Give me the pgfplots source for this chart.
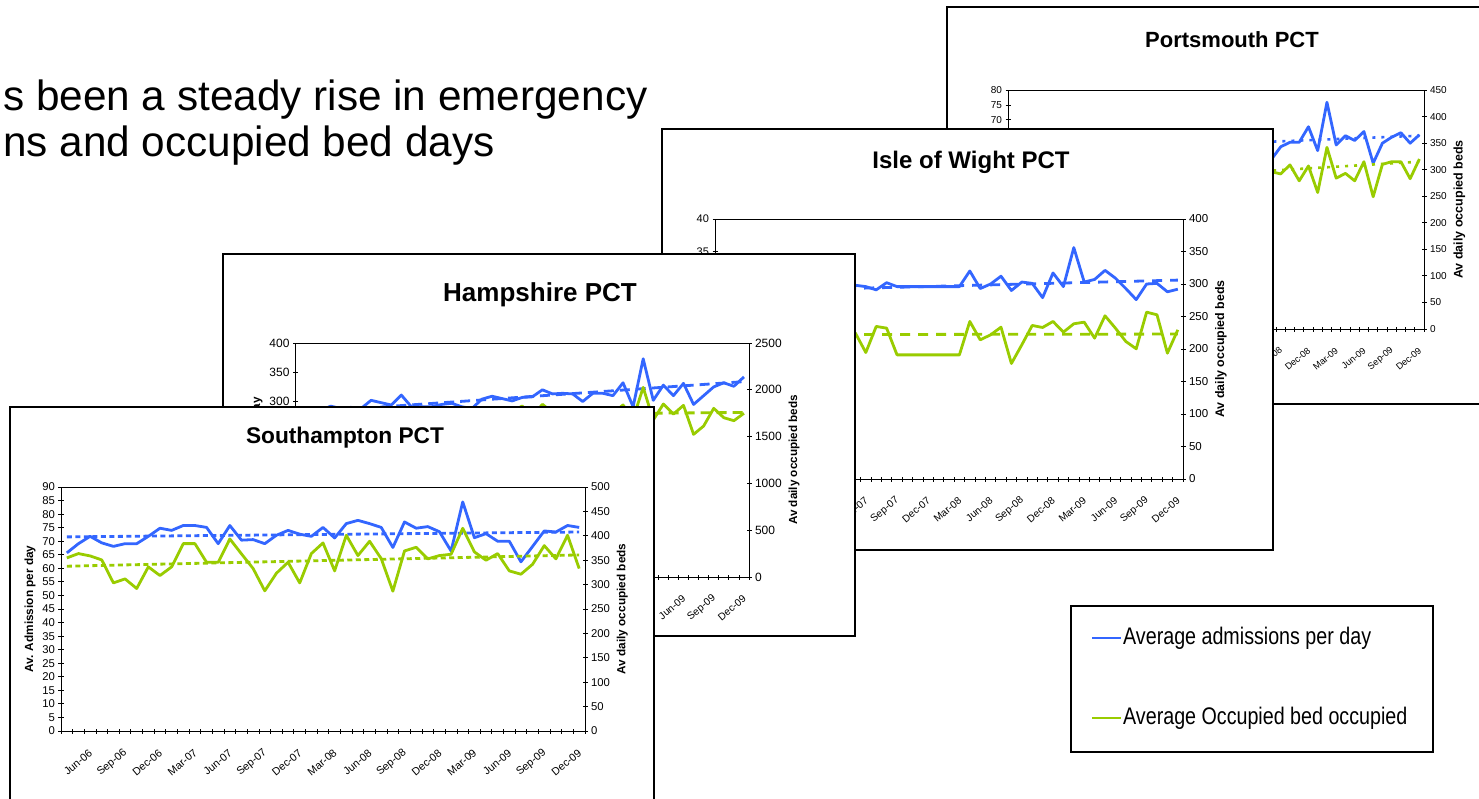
\documentclass[border=0pt]{standalone}
\usepackage{fontspec}
\setmainfont{Liberation Sans}
\newfontfamily\narrowfont[FakeStretch=0.82]{Liberation Sans}
\usepackage{pgfplots}
\usepackage{pgfplotstable}
\pgfplotsset{compat=1.18}
\definecolor{admblue}{RGB}{51,102,255}
\definecolor{bedgreen}{RGB}{153,204,0}
\newcommand{\fs}[1]{\fontsize{#1}{#1}\selectfont}

\pgfplotstableread{
i adm beds
1 65.7 354.7
2 69.1 363.6
3 71.8 358.8
4 69.4 350.6
5 68.1 303.5
6 69.1 311.7
7 69.1 292.0
8 71.8 336.3
9 74.8 318.6
10 74.0 336.3
11 75.8 384.0
12 75.8 384.0
13 75.1 345.8
14 69.1 345.8
15 75.8 393.6
16 70.4 362.9
17 70.6 332.9
18 69.1 287.2
19 72.2 323.3
20 74.0 345.8
21 72.6 303.5
22 71.8 363.6
23 75.1 385.4
24 71.2 328.1
25 76.5 401.1
26 77.7 359.5
27 76.5 388.8
28 75.1 353.3
29 67.7 286.5
30 77.1 369.0
31 74.8 376.5
32 75.4 352.7
33 73.5 359.5
34 66.4 362.2
35 84.5 415.4
36 71.3 367.0
37 72.8 349.9
38 70.0 363.6
39 70.0 328.1
40 62.4 321.3
41 68.1 341.7
42 73.8 379.9
43 73.4 352.7
44 75.8 401.1
45 75.1 332.9
}\southdata

\pgfplotstableread{
i adm beds
1 282 1700
2 288 1760
3 285 1740
4 292 1720
5 288 1650
6 290 1670
7 288 1640
8 302 1740
9 298 1700
10 294 1730
11 311 1800
12 291 1800
13 291 1740
14 291 1730
15 295 1810
16 297 1760
17 291 1700
18 288 1640
19 304 1720
20 309 1750
21 305 1680
22 301 1770
23 307 1827
24 308 1720
25 320 1845
26 313 1760
27 314 1810
28 313 1740
29 300 1640
30 314 1770
31 314 1790
32 310 1750
33 332 1838
34 291 1690
35 373 2026
36 302 1677
37 328 1848
38 310 1741
39 331 1834
40 295 1524
41 310 1613
42 325 1802
43 332 1702
44 326 1670
45 342 1749
}\hampdata

\pgfplotstableread{
i adm beds
1 28.5 215
2 29.2 228
3 28.8 205
4 29.5 221
5 28.2 232
6 29.0 210
7 29.8 198
8 28.6 225
9 29.3 219
10 30.1 207
11 29.0 230
12 29.5 214
13 30.3 229
14 29.8 224.4
15 29.6 194.6
16 29.1 234.7
17 30.2 232.1
18 29.6 191
19 29.6 191
20 29.6 191
21 29.6 191
22 29.6 191
23 29.6 191
24 29.6 191
25 32.0 242.4
26 29.3 214.1
27 30.0 221.8
28 31.2 233.6
29 29.0 177.7
30 30.3 206.4
31 30.1 236.2
32 27.9 233.1
33 31.7 242.4
34 29.6 225.9
35 35.6 238.8
36 30.3 241.3
37 30.7 216.7
38 32.1 251.1
39 30.9 232.1
40 29.3 211.6
41 27.6 200.3
42 30.0 256.7
43 30.1 252.6
44 28.8 193.6
45 29.2 229.5
}\wightdata

\pgfplotstableread{
i adm beds
1 57.5 272
2 59.0 285
3 56.8 268
4 58.2 290
5 55.9 262
6 57.0 279
7 58.8 295
8 60.1 270
9 57.4 283
10 58.6 276
11 61.2 298
12 59.5 288
13 58.0 265
14 56.7 280
15 60.3 292
16 58.1 274
17 57.2 268
18 56.0 286
19 59.4 300
20 60.5 281
21 58.3 273
22 57.6 295
23 60.9 287
24 59.2 278
25 61.0 302
26 58.4 284
27 60.7 290
28 59.8 299
29 56.8 296
30 61.0 292
31 62.5 309
32 62.5 279
33 67.7 307
34 59.7 257
35 75.9 342
36 61.6 284
37 64.7 293
38 63.1 279
39 66.1 315
40 55.5 249
41 62.2 310
42 64.2 315
43 65.7 315
44 62.2 283
45 65.0 320
}\portsdata

\pgfplotsset{
  base/.style={scale only axis, xmin=0.5, xmax=45.5, ymin=0,
    tick align=center, major tick length=0pt, minor tick length=5pt,
    axis line style={black, line width=0.8pt},
    tick style={black, line width=0.8pt},
    /pgf/number format/assume math mode=true,
    /pgf/number format/1000 sep={}},
  leftax/.style={base, minor xtick={0.5,1.5,...,45.5},
    xtick pos=left, ytick pos=left,
    yticklabel style={xshift=-2.5pt},
    xticklabel style={rotate=40, anchor=east, inner sep=0pt,
        yshift=-16pt, xshift=-12.5pt, font=\fs{#1}}},
  rightax/.style={base, axis x line=none, axis y line*=right,
    yticklabel style={xshift=2.5pt}},
  adm/.style={admblue, line width=2.8pt, line join=round},
  beds/.style={bedgreen, line width=2.8pt, line join=round},
}

\begin{document}
\begin{tikzpicture}
\path[use as bounding box] (0pt,0pt) rectangle (1479pt,-799pt);
\clip (0pt,0pt) rectangle (1479pt,-799pt);

% heading
\node[anchor=base west, inner sep=0pt, font=\fs{42.3}] at (3pt,-111pt) {s been a steady rise in emergency};
\node[anchor=base west, inner sep=0pt, font=\fs{42.3}] at (3pt,-157pt) {ns and occupied bed days};

% ---------------- Portsmouth ----------------
\draw[fill=white, line width=1.3pt] (947pt,-7pt) rectangle (1500pt,-404pt);
\node[font=\bfseries\fs{22}] at (1232pt,-40pt) {Portsmouth PCT};
\begin{axis}[leftax=9.2, at={(1008pt,-329pt)}, anchor=south west, width=416pt, height=239pt,
  ymax=80, ytick={70,75,80}, minor ytick={0,5,...,80},
  xtick={30,33,...,45},
  xticklabels={Sep-08,Dec-08,Mar-09,Jun-09,Sep-09,Dec-09},
  yticklabel style={font=\fs{10}}, label style={font=\bfseries\fs{12.5}}]
\addplot[adm] table[x=i,y=adm]{\portsdata};
\addplot[admblue, line width=2.6pt, dash pattern=on 3pt off 6pt] coordinates {(1,59.2) (45,64.7)};
\end{axis}
\begin{axis}[rightax, at={(1008pt,-329pt)}, anchor=south west, width=416pt, height=239pt,
  ymax=450, ytick={0,50,...,450}, minor ytick={0,50,...,450}, ylabel={Av daily occupied beds},
  tick label style={font=\fs{10}}, label style={font=\bfseries\fs{12.5}}]
\addplot[beds] table[x=i,y=beds]{\portsdata};
\addplot[bedgreen, line width=2.6pt, dash pattern=on 3pt off 6pt] coordinates {(1,269) (45,315)};
\end{axis}

% ---------------- Isle of Wight ----------------
\draw[fill=white, line width=1.3pt] (662pt,-129pt) rectangle (1273pt,-550pt);
\node[font=\bfseries\fs{24}] at (971pt,-162pt) {Isle of Wight PCT};
\begin{axis}[leftax=10.2, at={(715pt,-479pt)}, anchor=south west, width=468pt, height=260pt,
  ymax=40, ytick={35,40}, minor ytick={0,5,...,40},
  xtick={15,18,...,45},
  xticklabels={Jun-07,Sep-07,Dec-07,Mar-08,Jun-08,Sep-08,Dec-08,Mar-09,Jun-09,Sep-09,Dec-09},
  yticklabel style={font=\fs{11}}, label style={font=\bfseries\fs{12.4}}]
\addplot[adm] table[x=i,y=adm]{\wightdata};
\addplot[admblue, line width=2.8pt, dash pattern=on 10pt off 8pt] coordinates {(1,28.8) (45,30.6)};
\end{axis}
\begin{axis}[rightax, at={(715pt,-479pt)}, anchor=south west, width=468pt, height=260pt,
  ymax=400, ytick={0,50,...,400}, minor ytick={0,50,...,400}, ylabel={Av daily occupied beds},
  tick label style={font=\fs{11.5}}, label style={font=\bfseries\fs{12.4}}]
\addplot[beds] table[x=i,y=beds]{\wightdata};
\addplot[bedgreen, line width=2.8pt, dash pattern=on 10pt off 8pt] coordinates {(1,222) (45,223)};
\end{axis}

% ---------------- Hampshire ----------------
\draw[fill=white, line width=1.3pt] (223pt,-254pt) rectangle (855pt,-636pt);
\node[font=\bfseries\fs{26}] at (540pt,-295pt) {Hampshire PCT};
\begin{axis}[leftax=10.2, at={(295.5pt,-577pt)}, anchor=south west, width=453.5pt, height=234pt,
  ymax=400, ytick={300,350,400}, minor ytick={0,50,...,400},
  ylabel={Av. Admission per day},
  xtick={39,42,45},
  xticklabels={Jun-09,Sep-09,Dec-09},
  yticklabel style={font=\fs{12}}, label style={font=\bfseries\fs{11.7}}]
\addplot[adm] table[x=i,y=adm]{\hampdata};
\addplot[admblue, line width=2.8pt, dash pattern=on 10pt off 6pt] coordinates {(1,281) (45,334)};
\end{axis}
\begin{axis}[rightax, at={(295.5pt,-577pt)}, anchor=south west, width=453.5pt, height=234pt,
  ymax=2500, ytick={0,500,...,2500}, minor ytick={0,500,...,2500}, ylabel={Av daily occupied beds},
  tick label style={font=\fs{12}}, label style={font=\bfseries\fs{11.7}}]
\addplot[beds] table[x=i,y=beds]{\hampdata};
\addplot[bedgreen, line width=2.8pt, dash pattern=on 10pt off 6pt] coordinates {(1,1720) (45,1758)};
\end{axis}

% ---------------- Southampton ----------------
\draw[fill=white, line width=1.3pt] (10pt,-407pt) rectangle (654pt,-810pt);
\node[font=\bfseries\fs{22.7}] at (345pt,-438pt) {Southampton PCT};
\begin{axis}[leftax=10.8, at={(61pt,-731pt)}, anchor=south west, width=524pt, height=244pt,
  ymax=90, ytick={0,5,...,90}, minor ytick={0,5,...,90}, ylabel={Av. Admission per day},
  xtick={3,6,...,45},
  xticklabels={Jun-06,Sep-06,Dec-06,Mar-07,Jun-07,Sep-07,Dec-07,Mar-08,Jun-08,Sep-08,Dec-08,Mar-09,Jun-09,Sep-09,Dec-09},
  yticklabel style={font=\fs{11.3}}, label style={font=\bfseries\fs{11.8}}]
\addplot[adm] table[x=i,y=adm]{\southdata};
\addplot[admblue, line width=2.8pt, dash pattern=on 5pt off 3.5pt] coordinates {(1,71.6) (45,73.4)};
\end{axis}
\begin{axis}[rightax, at={(61pt,-731pt)}, anchor=south west, width=524pt, height=244pt,
  ymax=500, ytick={0,50,...,500}, minor ytick={0,50,...,500}, ylabel={Av daily occupied beds},
  tick label style={font=\fs{11.3}}, label style={font=\bfseries\fs{11.8}}]
\addplot[beds] table[x=i,y=beds]{\southdata};
\addplot[bedgreen, line width=2.8pt, dash pattern=on 5pt off 3.5pt] coordinates {(1,337.7) (45,360.8)};
\end{axis}

% ---------------- Legend ----------------
\draw[fill=white, line width=1.6pt] (1071pt,-606pt) rectangle (1433pt,-752pt);
\draw[admblue, line width=2pt] (1092pt,-638pt) -- (1121pt,-638pt);
\node[anchor=west, inner sep=0pt, font=\narrowfont\fs{24}] at (1123pt,-638pt) {Average admissions per day};
\draw[bedgreen, line width=2pt] (1092pt,-718pt) -- (1121pt,-718pt);
\node[anchor=west, inner sep=0pt, font=\narrowfont\fs{24}] at (1123pt,-718pt) {Average Occupied bed occupied};
\end{tikzpicture}
\end{document}
